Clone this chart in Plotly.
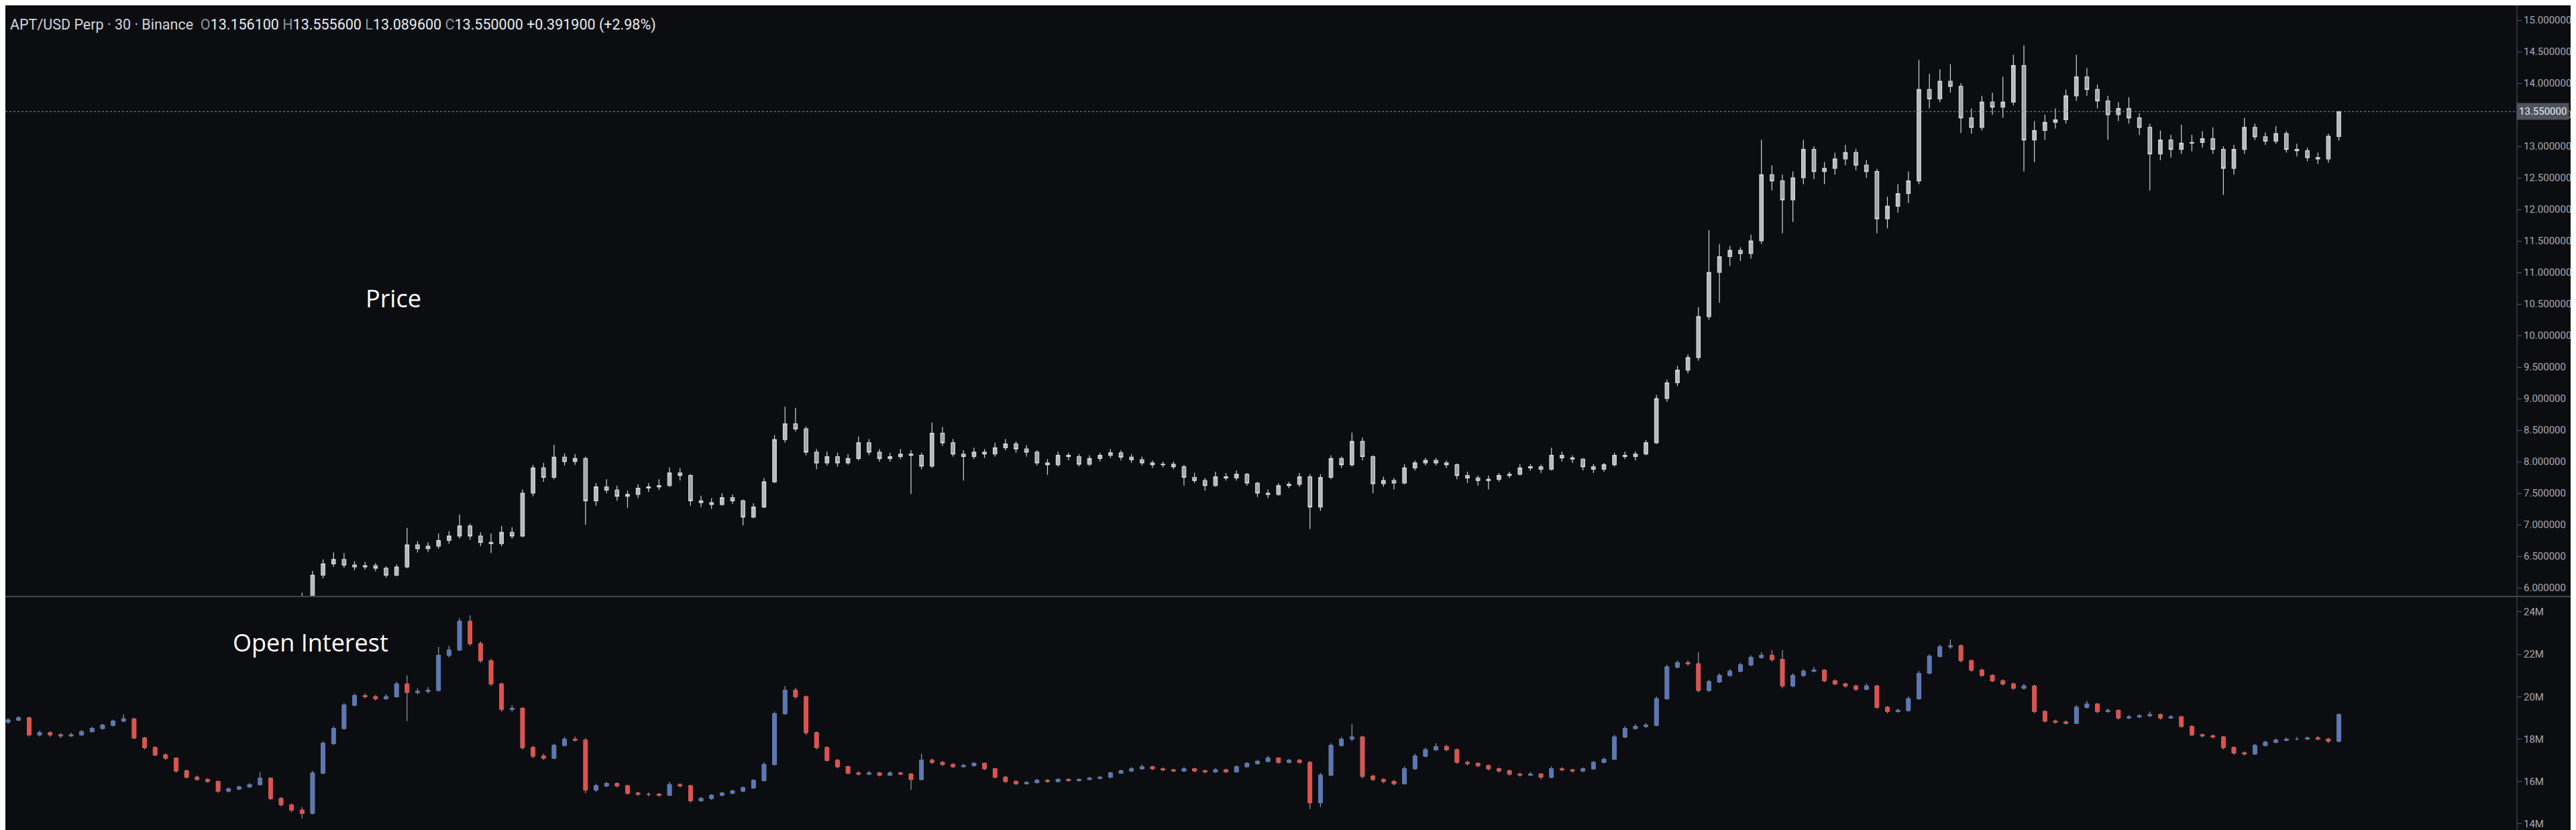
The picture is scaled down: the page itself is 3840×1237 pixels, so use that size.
import plotly.graph_objects as go

W, H = 3840, 1237
BG = "#0c0d10"
AXIS_X = 3743 / W          # right edge of the plotting area (price scale starts here)
SEP = 1 - 881 / H          # pane separator in paper coords

# ---- price candles (APT/USD, 30m, aggregated), first visible bar index ----
PRICE_FIRST_BAR = 28
PRICE_OPEN = [
    5.70, 5.80, 6.20, 6.38, 6.45, 6.36, 6.33, 6.35, 6.31, 6.20,
    6.33, 6.68, 6.62, 6.66, 6.75, 6.82, 6.98, 6.82, 6.72, 6.70,
    6.88, 6.82, 7.50, 7.90, 7.75, 8.07, 8.00, 8.05, 7.38, 7.60,
    7.55, 7.45, 7.48, 7.58, 7.60, 7.62, 7.82, 7.78, 7.38, 7.35,
    7.32, 7.43, 7.38, 7.12, 7.28, 7.68, 8.35, 8.60, 8.52, 8.15,
    7.98, 8.08, 7.98, 8.05, 8.30, 8.15, 8.05, 8.08, 8.12, 8.10,
    7.93, 8.45, 8.30, 8.12, 8.08, 8.15, 8.12, 8.22, 8.28, 8.20,
    8.15, 7.98, 7.95, 8.10, 8.08, 7.96, 8.05, 8.10, 8.14, 8.07,
    8.03, 7.98, 7.95, 7.96, 7.92, 7.75, 7.70, 7.62, 7.76, 7.74,
    7.80, 7.66, 7.50, 7.48, 7.62, 7.64, 7.76, 7.28, 7.75, 8.05,
    7.95, 8.32, 8.08, 7.65, 7.70, 7.66, 7.90, 7.98, 8.02, 7.98,
    7.95, 7.78, 7.74, 7.70, 7.72, 7.78, 7.80, 7.90, 7.92, 7.88,
    8.10, 8.06, 8.04, 7.92, 7.88, 7.95, 8.10, 8.08, 8.12, 8.30,
    9.00, 9.25, 9.45, 9.65, 10.30, 11.00, 11.25, 11.35, 11.30, 11.50,
    12.55, 12.45, 12.15, 12.50, 12.95, 12.60, 12.65, 12.80, 12.90, 12.70,
    12.60, 11.85, 12.05, 12.25, 12.45, 13.90, 13.75, 14.03, 13.95, 13.45,
    13.30, 13.70, 13.62, 13.70, 14.28, 13.10, 13.25, 13.38, 13.42, 13.80,
    14.10, 13.90, 13.72, 13.50, 13.60, 13.45, 13.30, 12.88, 13.10, 12.95,
    13.05, 13.06, 13.12, 12.95, 12.65, 12.95, 13.30, 13.15, 13.08, 13.20,
    12.95, 12.93, 12.82, 12.80, 13.1561,
]
PRICE_HIGH = [
    5.92, 6.27, 6.45, 6.56, 6.55, 6.42, 6.41, 6.39, 6.34, 6.37,
    6.95, 6.74, 6.72, 6.86, 6.90, 7.16, 7.02, 6.88, 6.86, 6.98,
    6.96, 7.56, 7.95, 7.98, 8.27, 8.13, 8.12, 8.08, 7.66, 7.72,
    7.62, 7.54, 7.64, 7.66, 7.72, 7.91, 7.90, 7.80, 7.46, 7.42,
    7.50, 7.48, 7.40, 7.34, 7.74, 8.42, 8.87, 8.85, 8.56, 8.20,
    8.16, 8.14, 8.12, 8.40, 8.36, 8.20, 8.14, 8.20, 8.18, 8.14,
    8.62, 8.55, 8.36, 8.18, 8.22, 8.20, 8.30, 8.36, 8.32, 8.26,
    8.18, 8.04, 8.16, 8.14, 8.12, 8.10, 8.14, 8.20, 8.18, 8.12,
    8.08, 8.02, 8.00, 8.00, 7.95, 7.82, 7.74, 7.84, 7.82, 7.86,
    7.82, 7.68, 7.56, 7.66, 7.68, 7.82, 7.80, 7.80, 8.10, 8.08,
    8.46, 8.38, 8.10, 7.76, 7.74, 7.96, 8.02, 8.06, 8.06, 8.02,
    7.97, 7.84, 7.78, 7.78, 7.82, 7.84, 7.96, 7.96, 7.95, 8.22,
    8.16, 8.10, 8.06, 7.96, 7.98, 8.14, 8.16, 8.16, 8.34, 9.06,
    9.30, 9.52, 9.70, 10.45, 11.67, 11.45, 11.42, 11.40, 11.60, 13.10,
    12.70, 12.55, 12.60, 13.10, 13.00, 12.75, 12.90, 13.02, 12.96, 12.78,
    12.64, 12.20, 12.40, 12.60, 14.37, 14.15, 14.22, 14.30, 14.00, 13.60,
    13.80, 13.85, 14.10, 14.45, 14.60, 13.40, 13.50, 13.60, 13.90, 14.45,
    14.24, 13.98, 13.80, 13.70, 13.78, 13.52, 13.36, 13.25, 13.18, 13.34,
    13.18, 13.24, 13.30, 13.00, 13.02, 13.45, 13.36, 13.22, 13.32, 13.24,
    13.04, 12.98, 12.90, 13.20, 13.5556,
]
PRICE_LOW = [
    5.65, 5.78, 6.15, 6.33, 6.32, 6.28, 6.29, 6.26, 6.16, 6.18,
    6.31, 6.56, 6.57, 6.62, 6.70, 6.78, 6.76, 6.66, 6.55, 6.66,
    6.78, 6.80, 7.45, 7.68, 7.72, 7.94, 7.95, 7.00, 7.30, 7.50,
    7.38, 7.27, 7.42, 7.52, 7.55, 7.60, 7.70, 7.30, 7.28, 7.25,
    7.30, 7.33, 6.99, 7.10, 7.26, 7.66, 8.30, 8.48, 8.10, 7.88,
    7.94, 7.92, 7.95, 8.02, 8.10, 8.00, 8.00, 8.04, 7.49, 7.88,
    7.90, 8.25, 8.08, 7.70, 8.04, 8.06, 8.08, 8.18, 8.14, 8.08,
    7.94, 7.79, 7.92, 8.02, 7.92, 7.93, 8.00, 8.06, 8.02, 7.98,
    7.94, 7.90, 7.91, 7.88, 7.62, 7.66, 7.54, 7.60, 7.70, 7.70,
    7.62, 7.44, 7.42, 7.46, 7.58, 7.60, 6.93, 7.22, 7.72, 7.90,
    7.92, 8.02, 7.50, 7.60, 7.56, 7.64, 7.86, 7.94, 7.94, 7.90,
    7.72, 7.66, 7.62, 7.56, 7.68, 7.74, 7.78, 7.86, 7.82, 7.86,
    8.00, 7.98, 7.86, 7.82, 7.84, 7.92, 8.04, 8.02, 8.10, 8.28,
    8.95, 9.20, 9.40, 9.60, 10.25, 10.52, 11.10, 11.18, 11.22, 11.45,
    12.30, 11.62, 11.80, 12.40, 12.48, 12.40, 12.55, 12.70, 12.62, 12.50,
    11.62, 11.70, 11.95, 12.10, 12.40, 13.60, 13.70, 13.85, 13.21, 13.20,
    13.25, 13.50, 13.45, 13.65, 12.60, 12.75, 13.10, 13.28, 13.36, 13.72,
    13.80, 13.60, 13.10, 13.40, 13.36, 13.18, 12.30, 12.78, 12.82, 12.88,
    12.92, 12.98, 12.88, 12.23, 12.55, 12.88, 13.10, 13.02, 13.04, 12.90,
    12.84, 12.76, 12.72, 12.74, 13.0896,
]
PRICE_CLOSE = [
    5.80, 6.20, 6.38, 6.45, 6.36, 6.33, 6.35, 6.31, 6.20, 6.33,
    6.68, 6.62, 6.66, 6.75, 6.82, 6.98, 6.82, 6.72, 6.70, 6.88,
    6.82, 7.50, 7.90, 7.75, 8.07, 8.00, 8.05, 7.38, 7.60, 7.55,
    7.45, 7.48, 7.58, 7.60, 7.62, 7.82, 7.78, 7.38, 7.35, 7.32,
    7.43, 7.38, 7.12, 7.28, 7.68, 8.35, 8.60, 8.52, 8.15, 7.98,
    8.08, 7.98, 8.05, 8.30, 8.15, 8.05, 8.08, 8.12, 8.10, 7.93,
    8.45, 8.30, 8.12, 8.08, 8.15, 8.12, 8.22, 8.28, 8.20, 8.15,
    7.98, 7.95, 8.10, 8.08, 7.96, 8.05, 8.10, 8.14, 8.07, 8.03,
    7.98, 7.95, 7.96, 7.92, 7.75, 7.70, 7.62, 7.76, 7.74, 7.80,
    7.66, 7.50, 7.48, 7.62, 7.64, 7.76, 7.28, 7.75, 8.05, 7.95,
    8.32, 8.08, 7.65, 7.70, 7.66, 7.90, 7.98, 8.02, 7.98, 7.95,
    7.78, 7.74, 7.70, 7.72, 7.78, 7.80, 7.90, 7.92, 7.88, 8.10,
    8.06, 8.04, 7.92, 7.88, 7.95, 8.10, 8.08, 8.12, 8.30, 9.00,
    9.25, 9.45, 9.65, 10.30, 11.00, 11.25, 11.35, 11.30, 11.50, 12.55,
    12.45, 12.15, 12.50, 12.95, 12.60, 12.65, 12.80, 12.90, 12.70, 12.60,
    11.85, 12.05, 12.25, 12.45, 13.90, 13.75, 14.03, 13.95, 13.45, 13.30,
    13.70, 13.62, 13.70, 14.28, 13.10, 13.25, 13.38, 13.42, 13.80, 14.10,
    13.90, 13.72, 13.50, 13.60, 13.45, 13.30, 12.88, 13.10, 12.95, 13.05,
    13.06, 13.12, 12.95, 12.65, 12.95, 13.30, 13.15, 13.08, 13.20, 12.95,
    12.93, 12.82, 12.80, 13.1581, 13.55,
]

# ---- open interest candles, in millions ----
OI_OPEN = [
    18.80, 18.90, 19.00, 18.20, 18.30, 18.20, 18.15, 18.20, 18.35, 18.50,
    18.65, 18.85, 18.95, 18.05, 17.60, 17.25, 17.10, 16.50, 16.20, 16.10,
    16.00, 15.55, 15.65, 15.75, 15.85, 16.15, 15.20, 14.90, 14.65, 14.50,
    16.40, 17.80, 18.50, 19.60, 20.05, 20.00, 19.90, 20.00, 20.60, 20.20,
    20.25, 20.30, 21.95, 22.20, 23.55, 22.50, 21.70, 20.60, 19.40, 19.45,
    17.60, 17.20, 17.10, 17.70, 18.00, 17.95, 15.60, 15.80, 15.90, 15.80,
    15.45, 15.40, 15.40, 15.35, 15.85, 15.80, 15.10, 15.20, 15.35, 15.45,
    15.55, 15.70, 16.05, 16.80, 19.20, 20.30, 20.00, 18.30, 17.60, 17.00,
    16.70, 16.40, 16.35, 16.40, 16.30, 16.40, 16.35, 16.10, 17.00, 16.90,
    16.80, 16.70, 16.75, 16.85, 16.60, 16.20, 16.00, 15.90, 15.95, 16.05,
    16.00, 16.10, 16.05, 16.10, 16.15, 16.20, 16.40, 16.50, 16.60, 16.70,
    16.60, 16.55, 16.50, 16.60, 16.50, 16.45, 16.55, 16.45, 16.70, 16.85,
    16.95, 17.10, 16.90, 17.00, 16.90, 15.00, 16.30, 17.70, 18.00, 18.10,
    16.25, 16.10, 16.00, 15.90, 16.60, 17.20, 17.50, 17.65, 17.50, 16.90,
    16.85, 16.75, 16.60, 16.50, 16.35, 16.30, 16.35, 16.20, 16.60, 16.55,
    16.50, 16.60, 16.90, 17.05, 18.10, 18.50, 18.60, 18.65, 19.90, 21.40,
    21.60, 21.55, 20.30, 20.70, 21.00, 21.20, 21.50, 21.85, 21.95, 21.75,
    20.50, 21.00, 21.20, 21.25, 20.75, 20.60, 20.50, 20.35, 20.50, 19.50,
    19.30, 19.35, 19.90, 21.10, 21.90, 22.35, 22.40, 21.70, 21.25, 21.00,
    20.75, 20.60, 20.40, 20.50, 19.30, 18.85, 18.80, 18.75, 19.50, 19.65,
    19.30, 19.35, 19.00, 19.05, 19.10, 19.15, 19.00, 19.05, 18.60, 18.20,
    18.15, 18.10, 17.60, 17.35, 17.30, 17.70, 17.85, 17.95, 18.00, 18.00,
    18.05, 18.00, 17.90,
]
OI_HIGH = [
    18.98, 19.08, 19.05, 18.40, 18.36, 18.28, 18.30, 18.42, 18.58, 18.72,
    18.92, 19.17, 19.00, 18.10, 17.66, 17.32, 17.14, 16.56, 16.28, 16.16,
    16.04, 15.72, 15.80, 15.92, 16.43, 16.20, 15.26, 14.96, 14.80, 16.50,
    17.90, 18.60, 19.70, 20.15, 20.15, 20.08, 20.10, 20.70, 21.00, 20.40,
    20.45, 22.35, 22.40, 23.70, 23.84, 22.60, 21.78, 20.66, 19.60, 19.52,
    17.68, 17.30, 17.78, 18.10, 18.12, 18.05, 15.88, 15.98, 15.96, 15.84,
    15.52, 15.48, 15.46, 15.98, 15.92, 15.84, 15.26, 15.40, 15.50, 15.60,
    15.76, 16.10, 16.90, 19.30, 20.50, 20.42, 20.05, 18.36, 17.66, 17.06,
    16.76, 16.48, 16.50, 16.46, 16.48, 16.46, 16.40, 17.30, 17.08, 16.96,
    16.86, 16.84, 16.92, 16.90, 16.64, 16.26, 16.06, 16.02, 16.12, 16.10,
    16.16, 16.14, 16.16, 16.22, 16.26, 16.46, 16.56, 16.68, 16.80, 16.74,
    16.66, 16.60, 16.68, 16.64, 16.56, 16.62, 16.60, 16.76, 16.92, 17.02,
    17.20, 17.14, 17.06, 17.06, 16.96, 16.40, 17.80, 18.10, 18.70, 18.16,
    16.32, 16.16, 16.08, 16.70, 17.30, 17.60, 17.80, 17.74, 17.56, 16.98,
    16.90, 16.80, 16.66, 16.56, 16.42, 16.44, 16.40, 16.70, 16.68, 16.60,
    16.66, 16.96, 17.14, 18.20, 18.60, 18.70, 18.74, 20.00, 21.50, 21.70,
    21.72, 22.10, 20.80, 21.10, 21.30, 21.60, 21.95, 22.10, 22.20, 22.20,
    21.10, 21.30, 21.40, 21.30, 20.82, 20.66, 20.56, 20.62, 20.56, 19.56,
    19.44, 20.00, 21.20, 22.00, 22.45, 22.70, 22.46, 21.76, 21.32, 21.06,
    20.82, 20.66, 20.60, 20.56, 19.36, 18.92, 18.88, 19.60, 19.80, 19.70,
    19.44, 19.40, 19.12, 19.18, 19.30, 19.20, 19.12, 19.10, 18.66, 18.26,
    18.22, 18.14, 17.66, 17.42, 17.76, 17.92, 18.02, 18.08, 18.10, 18.12,
    18.14, 18.06, 19.20,
]
OI_LOW = [
    18.72, 18.85, 18.12, 18.12, 18.10, 18.05, 18.10, 18.16, 18.30, 18.44,
    18.60, 18.80, 18.00, 17.52, 17.20, 17.02, 16.42, 16.14, 16.04, 15.94,
    15.46, 15.48, 15.60, 15.70, 15.80, 15.12, 14.82, 14.55, 14.26, 14.45,
    16.35, 17.72, 18.45, 19.55, 19.92, 19.82, 19.84, 19.95, 18.85, 20.10,
    20.15, 20.25, 21.85, 22.15, 22.40, 21.60, 20.50, 19.30, 19.30, 17.50,
    17.10, 17.02, 17.05, 17.65, 17.88, 15.45, 15.52, 15.74, 15.72, 15.38,
    15.32, 15.30, 15.28, 15.32, 15.72, 15.00, 15.04, 15.14, 15.30, 15.40,
    15.50, 15.65, 16.00, 16.75, 19.15, 19.90, 18.20, 17.52, 16.94, 16.62,
    16.34, 16.28, 16.30, 16.24, 16.26, 16.30, 15.60, 16.05, 16.82, 16.72,
    16.64, 16.66, 16.70, 16.54, 16.14, 15.94, 15.84, 15.86, 15.90, 15.94,
    15.96, 15.98, 16.00, 16.06, 16.10, 16.16, 16.36, 16.46, 16.56, 16.54,
    16.48, 16.44, 16.46, 16.44, 16.38, 16.40, 16.40, 16.42, 16.66, 16.80,
    16.90, 16.84, 16.86, 16.84, 14.70, 14.80, 16.25, 17.65, 17.90, 16.15,
    16.02, 15.92, 15.82, 15.86, 16.55, 17.15, 17.44, 17.42, 16.84, 16.76,
    16.68, 16.52, 16.42, 16.28, 16.22, 16.26, 16.10, 16.15, 16.48, 16.42,
    16.44, 16.55, 16.86, 17.00, 18.05, 18.44, 18.52, 18.60, 19.85, 21.34,
    21.46, 20.20, 20.22, 20.64, 20.94, 21.14, 21.44, 21.80, 21.66, 20.40,
    20.44, 20.94, 21.14, 20.68, 20.54, 20.42, 20.28, 20.30, 19.42, 19.22,
    19.24, 19.30, 19.85, 21.05, 21.85, 22.25, 21.62, 21.18, 20.94, 20.68,
    20.52, 20.32, 20.34, 19.22, 18.78, 18.72, 18.68, 18.70, 19.44, 19.22,
    19.24, 18.92, 18.94, 19.00, 19.04, 18.92, 18.96, 18.54, 18.14, 18.08,
    18.02, 17.52, 17.26, 17.22, 17.26, 17.66, 17.80, 17.90, 17.94, 17.96,
    17.94, 17.82, 17.85,
]
OI_CLOSE = [
    18.90, 19.00, 18.20, 18.30, 18.20, 18.15, 18.20, 18.35, 18.50, 18.65,
    18.85, 18.95, 18.05, 17.60, 17.25, 17.10, 16.50, 16.20, 16.10, 16.00,
    15.55, 15.65, 15.75, 15.85, 16.15, 15.20, 14.90, 14.65, 14.50, 16.40,
    17.80, 18.50, 19.60, 20.05, 20.00, 19.90, 20.00, 20.60, 20.20, 20.25,
    20.30, 21.95, 22.20, 23.55, 22.50, 21.70, 20.60, 19.40, 19.45, 17.60,
    17.20, 17.10, 17.70, 18.00, 17.95, 15.60, 15.80, 15.90, 15.80, 15.45,
    15.40, 15.40, 15.35, 15.85, 15.80, 15.10, 15.20, 15.35, 15.45, 15.55,
    15.70, 16.05, 16.80, 19.20, 20.30, 20.00, 18.30, 17.60, 17.00, 16.70,
    16.40, 16.35, 16.40, 16.30, 16.40, 16.35, 16.10, 17.00, 16.90, 16.80,
    16.70, 16.75, 16.85, 16.60, 16.20, 16.00, 15.90, 15.95, 16.05, 16.00,
    16.10, 16.05, 16.10, 16.15, 16.20, 16.40, 16.50, 16.60, 16.70, 16.60,
    16.55, 16.50, 16.60, 16.50, 16.45, 16.55, 16.45, 16.70, 16.85, 16.95,
    17.10, 16.90, 17.00, 16.90, 15.00, 16.30, 17.70, 18.00, 18.10, 16.25,
    16.10, 16.00, 15.90, 16.60, 17.20, 17.50, 17.65, 17.50, 16.90, 16.85,
    16.75, 16.60, 16.50, 16.35, 16.30, 16.35, 16.20, 16.60, 16.55, 16.50,
    16.60, 16.90, 17.05, 18.10, 18.50, 18.60, 18.65, 19.90, 21.40, 21.60,
    21.55, 20.30, 20.70, 21.00, 21.20, 21.50, 21.85, 21.95, 21.75, 20.50,
    21.00, 21.20, 21.25, 20.75, 20.60, 20.50, 20.35, 20.50, 19.50, 19.30,
    19.35, 19.90, 21.10, 21.90, 22.35, 22.40, 21.70, 21.25, 21.00, 20.75,
    20.60, 20.40, 20.50, 19.30, 18.85, 18.80, 18.75, 19.50, 19.65, 19.30,
    19.35, 19.00, 19.05, 19.10, 19.15, 19.00, 19.05, 18.60, 18.20, 18.15,
    18.10, 17.60, 17.35, 17.30, 17.70, 17.85, 17.95, 18.00, 18.00, 18.05,
    18.00, 17.90, 19.15,
]

PRICE_TICKS = [6.0, 6.5, 7.0, 7.5, 8.0, 8.5, 9.0, 9.5, 10.0, 10.5,
               11.0, 11.5, 12.0, 12.5, 13.0, 13.5, 14.0, 14.5, 15.0]
OI_TICKS = [14, 16, 18, 20, 22, 24]
PRICE_RANGE = [5.862, 15.234]
OI_RANGE = [13.46, 24.66]
X_RANGE = [-0.26, 238.9]

GRID_FONT = dict(family="Roboto, 'Liberation Sans', sans-serif", size=15, color="#a7aab3")
BLUE, RED, WICK = "#5a78b8", "#e4504b", "#9a9da6"
CANDLE_LINE, CANDLE_FILL = "#d6d6d6", "#b9b9b9"

price_x = list(range(PRICE_FIRST_BAR, PRICE_FIRST_BAR + len(PRICE_CLOSE)))
oi_x = list(range(len(OI_CLOSE)))

fig = go.Figure()

fig.add_trace(go.Candlestick(
    x=price_x, open=PRICE_OPEN, high=PRICE_HIGH, low=PRICE_LOW, close=PRICE_CLOSE,
    xaxis="x", yaxis="y", whiskerwidth=0,
    increasing=dict(line=dict(color=CANDLE_LINE, width=1.2), fillcolor=CANDLE_FILL),
    decreasing=dict(line=dict(color=CANDLE_LINE, width=1.2), fillcolor="#a3a3a3"),
    hoverinfo="skip", showlegend=False,
))

# OI: grey wicks underneath, coloured bodies on top
fig.add_trace(go.Candlestick(
    x=oi_x, open=OI_OPEN, high=OI_HIGH, low=OI_LOW, close=OI_CLOSE,
    xaxis="x2", yaxis="y2", whiskerwidth=0,
    increasing=dict(line=dict(color=WICK, width=1.2), fillcolor=WICK),
    decreasing=dict(line=dict(color=WICK, width=1.2), fillcolor=WICK),
    hoverinfo="skip", showlegend=False,
))
body_hi = [max(o, c) for o, c in zip(OI_OPEN, OI_CLOSE)]
body_lo = [min(o, c) for o, c in zip(OI_OPEN, OI_CLOSE)]
fig.add_trace(go.Candlestick(
    x=oi_x, open=OI_OPEN, high=body_hi, low=body_lo, close=OI_CLOSE,
    xaxis="x2", yaxis="y2", whiskerwidth=0,
    increasing=dict(line=dict(color=BLUE, width=1), fillcolor=BLUE),
    decreasing=dict(line=dict(color=RED, width=1), fillcolor=RED),
    hoverinfo="skip", showlegend=False,
))

axis_common = dict(
    side="right", showgrid=False, zeroline=False, ticks="outside", ticklen=6,
    tickwidth=1, tickcolor="#5b5e66", showline=True, linecolor="#2e3139",
    linewidth=2, tickfont=GRID_FONT,
)
x_common = dict(domain=[0, AXIS_X], range=X_RANGE, visible=False,
                rangeslider=dict(visible=False), fixedrange=True)

fig.update_layout(
    width=W, height=H,
    paper_bgcolor=BG, plot_bgcolor=BG,
    margin=dict(l=0, r=0, t=0, b=0),
    showlegend=False, hovermode=False,
    boxgap=0.5,
    xaxis=dict(anchor="y", **x_common),
    xaxis2=dict(anchor="y2", **x_common),
    yaxis=dict(anchor="x", domain=[SEP, 1], range=PRICE_RANGE,
               tickvals=PRICE_TICKS, ticktext=[f"{v:.6f}" for v in PRICE_TICKS],
               **axis_common),
    yaxis2=dict(anchor="x2", domain=[0, SEP - 0.0016], range=OI_RANGE,
                tickvals=OI_TICKS, ticktext=[f"{v}M" for v in OI_TICKS],
                **axis_common),
)

last = PRICE_CLOSE[-1]
fig.add_shape(type="line", xref="paper", yref="y", x0=0, x1=AXIS_X, y0=last, y1=last,
              line=dict(color="#8d9099", width=1, dash="dot"))
fig.add_shape(type="line", xref="paper", yref="paper", x0=0, x1=1, y0=SEP, y1=SEP,
              line=dict(color="#43464e", width=2))

fig.add_annotation(xref="paper", yref="y", x=AXIS_X, y=last, xanchor="left", yanchor="middle",
                   text=f"{last:.6f}", showarrow=False, bgcolor="#4d525e", borderpad=3,
                   font=dict(family=GRID_FONT["family"], size=15, color="#eef0f4"))

o, h, l, c = PRICE_OPEN[-1], PRICE_HIGH[-1], PRICE_LOW[-1], PRICE_CLOSE[-1]
chg = c - PRICE_CLOSE[-2]
pct = chg / PRICE_CLOSE[-2] * 100
dim = "color:#8f929b"
header = (
    "<span style='color:#d1d4dc'>APT/USD Perp · 30 · Binance</span>  "
    f"<span style='{dim}'>O</span>{o:.6f} <span style='{dim}'>H</span>{h:.6f} "
    f"<span style='{dim}'>L</span>{l:.6f} <span style='{dim}'>C</span>{c:.6f} "
    f"{chg:+.6f} ({pct:+.2f}%)"
)
fig.add_annotation(xref="paper", yref="paper", x=5 / W, y=1 - 29 / H, xanchor="left",
                   yanchor="middle", text=header, showarrow=False,
                   font=dict(family="Roboto, sans-serif", size=21.5, color="#e8eaef"))

label_font = dict(family="'Open Sans', sans-serif", size=36, color="#ffffff")
fig.add_annotation(xref="paper", yref="paper", x=578 / W, y=1 - 436 / H, text="Price",
                   xanchor="center", yanchor="middle", showarrow=False, font=label_font)
fig.add_annotation(xref="paper", yref="paper", x=455 / W, y=1 - 950 / H, text="Open Interest",
                   xanchor="center", yanchor="middle", showarrow=False, font=label_font)

fig.write_html("out.html")
